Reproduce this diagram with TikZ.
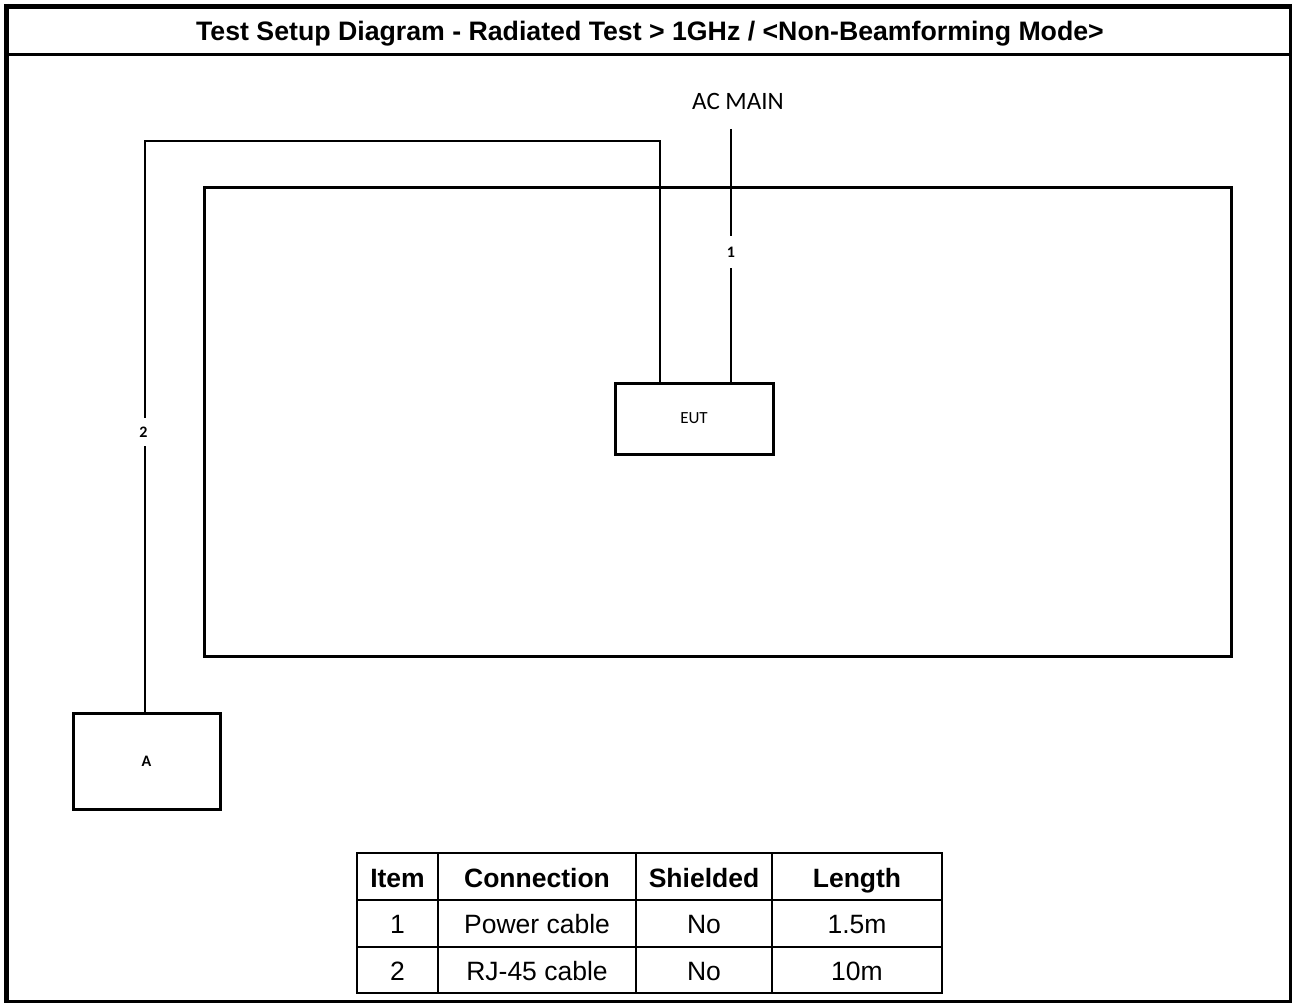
\documentclass[tikz,border=0pt]{standalone}
\usepackage{fontspec}
\setmainfont{Liberation Sans}
\newfontfamily\calibri{Carlito}
\begin{document}
\begin{tikzpicture}[x=1pt,y=-1pt,
  frame/.style={draw=black,line width=3pt,rectangle,inner sep=0pt},
  cable/.style={draw=black,line width=2pt},
  cablelabel/.style={inner sep=0pt,font=\calibri\bfseries\fontsize{16}{18}\selectfont},
  grid/.style={draw=black,line width=2.5pt},
  cell/.style={inner sep=0pt,anchor=base,font=\fontsize{26.5}{30}\selectfont},
  headcell/.style={inner sep=0pt,anchor=base,font=\bfseries\fontsize{26.5}{30}\selectfont}]
\useasboundingbox (0,0) rectangle (1292,1003);
% outer border
\draw[line width=5pt] (6.5,4) -- (6.5,1003);
\draw[line width=5pt] (4,6.5) -- (1292,6.5);
\draw[line width=3pt] (1290.5,4) -- (1290.5,1003);
\draw[line width=3pt] (4,1001.5) -- (1292,1001.5);
\draw[line width=3pt] (6,54.5) -- (1290,54.5);
\node[font=\bfseries\fontsize{26.7}{30}\selectfont,anchor=base] (title) at (650,41) {Test Setup Diagram - Radiated Test > 1GHz / <Non-Beamforming Mode>};
% room
\node[frame,minimum width=1027pt,minimum height=468pt] (room) at (717.5,422) {};
% AC main
\node[font=\calibri\fontsize{25}{28}\selectfont] (ac) at (738,101) {AC MAIN};
\coordinate (acend) at (731,129);
% EUT
\node[frame,fill=white,minimum width=158pt,minimum height=71pt,font=\calibri\fontsize{17}{20}\selectfont] (eut) at (694,418.5) {EUT};
% A
\node[frame,minimum width=147pt,minimum height=96pt,font=\calibri\bfseries\fontsize{16}{20}\selectfont] (a) at (146.5,761) {A};
% cable 1
\node[cablelabel,minimum height=32pt] (l1) at (731,252) {1};
\draw[cable] (acend) -- (l1);
\draw[cable] (l1) -- (l1 |- eut.north);
% cable 2
\coordinate (e2) at (660,383);
\coordinate (c2) at (145,141);
\node[cablelabel,minimum height=28pt] (l2) at (143.5,432) {2};
\draw[cable] (e2) |- (c2) -- (c2 |- l2.north);
\draw[cable] (c2 |- l2.south) -- (c2 |- a.north);
% table
\draw[grid] (357,853) rectangle (942,993);
\draw[grid] (357,900) -- (942,900);
\draw[grid] (357,947) -- (942,947);
\draw[grid] (438,853) -- (438,993);
\draw[grid] (636,853) -- (636,993);
\draw[grid] (772,853) -- (772,993);
\node[headcell] (h1) at (397.5,887) {Item};
\node[headcell] (h2) at (537,887) {Connection};
\node[headcell] (h3) at (704,887) {Shielded};
\node[headcell] (h4) at (857,887) {Length};
\node[cell] (r11) at (397.5,933) {1};
\node[cell] (r12) at (537,933) {Power cable};
\node[cell] (r13) at (704,933) {No};
\node[cell] (r14) at (857,933) {1.5m};
\node[cell] (r21) at (397.5,980) {2};
\node[cell] (r22) at (537,980) {RJ-45 cable};
\node[cell] (r23) at (704,980) {No};
\node[cell] (r24) at (857,980) {10m};
\end{tikzpicture}
\end{document}
